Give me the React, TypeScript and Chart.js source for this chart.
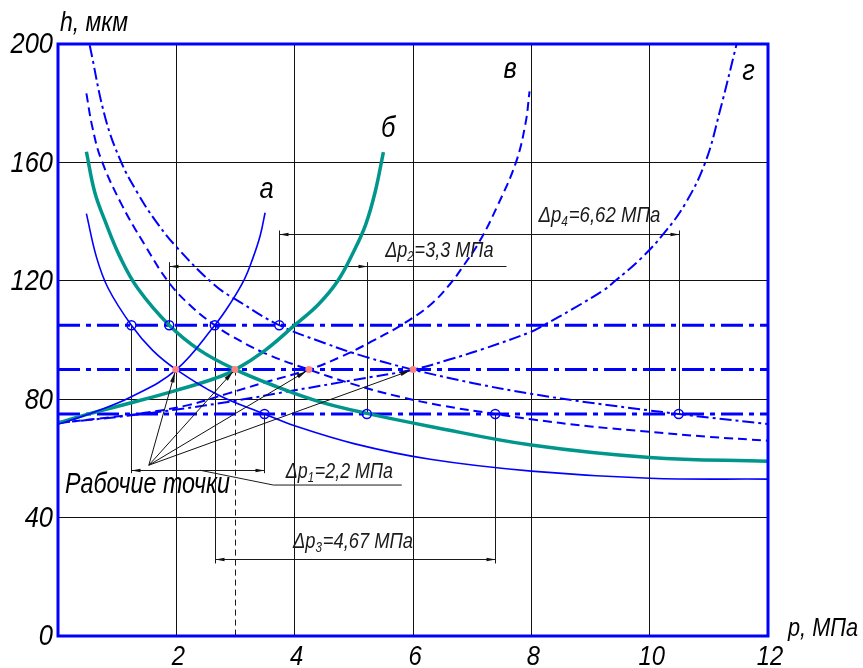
import React, { useEffect, useRef } from 'react';
import { Chart, registerables } from 'chart.js';
Chart.register(...registerables);

const FONT = '"Liberation Sans", "DejaVu Sans", sans-serif';

// Axis ticks
const xTickValues = [0, 2, 4, 6, 8, 10, 12];
const xTickLabels = ['', '2', '4', '6', '8', '10', '12'];
const yTickValues = [0, 40, 80, 120, 160, 200];
const yTickLabels = ['0', '40', '80', '120', '160', '200'];

// Curve а (solid blue)
const aRiseP = [0, 0.55, 1.24, 2, 2.65, 2.9, 3.15, 3.3, 3.42, 3.5];
const aRiseH = [71.5, 75.2, 80.8, 90, 105, 112, 120.5, 128, 135.5, 143];
const aDescP = [0.48, 0.65, 0.85, 1.24, 1.6, 2, 2.7, 3.49, 4, 5, 6.29, 8, 10, 12];
const aDescH = [142.7, 128, 117.4, 105, 96.5, 90, 81.5, 75, 71, 65, 59.7, 55.7, 53.3, 53];

// Curve б (teal)
const bRiseP = [0, 0.55, 1.24, 2, 2.65, 3, 3.5, 4.0, 4.4, 4.73, 5.0, 5.2, 5.36, 5.5];
const bRiseH = [72, 75.2, 78.8, 83, 87, 90, 96.5, 105, 112, 120, 130, 139, 150, 163.5];
const bDescP = [0.48, 0.62, 0.79, 1.05, 1.35, 1.88, 2.4, 3, 3.7, 4.43, 5.22, 6.29, 8, 10, 12];
const bDescH = [163.6, 150, 140.5, 128, 117.4, 105, 96.5, 90, 84.2, 79.1, 75.2, 70.8, 64.5, 60.3, 59];

// Curve в (dashed blue)
const vRiseP = [0, 0.7, 1.44, 2.2, 2.85, 3.5, 4.24, 4.8, 5.3, 5.84, 6.3, 6.63, 6.85, 7.13, 7.42, 7.74, 7.9, 7.97];
const vRiseH = [72, 73.5, 75.3, 78, 81.8, 85.7, 90, 94.5, 99.5, 105.5, 112, 119, 125, 133.5, 145, 160, 173, 184];
const vDescP = [0.48, 0.58, 0.73, 1.07, 1.47, 1.89, 2.3, 2.65, 2.9, 3.5, 4.24, 5.0, 5.78, 6.5, 7.39, 8, 9, 10, 11, 12];
const vDescH = [183.3, 172, 161, 146, 132, 119, 110.5, 105, 101.7, 95.5, 90, 85, 80.8, 77.8, 75, 73.2, 70.8, 69, 67.3, 66];

// Curve г (dash-dot blue)
const gRiseP = [0, 1, 2, 3, 4, 5, 6, 6.6, 7.19, 8, 8.21, 8.7, 9.22, 9.42, 9.85, 10.24, 10.6, 10.94, 11.19, 11.47];
const gRiseH = [72, 74, 76.5, 79.5, 83, 86.5, 90, 93.3, 97, 102.8, 105, 110.5, 116.8, 120, 127.5, 136, 146, 160, 177.6, 200];
const gDescP = [0.536, 0.8, 1.07, 1.35, 1.64, 2.0, 2.65, 3.07, 3.74, 4.5, 5.2, 6, 7, 8, 9, 10, 10.49, 11, 12];
const gDescH = [199.6, 175, 160, 149.5, 140.5, 131.5, 118.5, 112.9, 105, 99, 94.3, 90, 85.5, 81.8, 78.8, 76.2, 75, 73.8, 71.6];

// Horizontal levels
const levelH = [105, 90, 75];

// Hollow circles (intersections with levels)
const circleP = [1.24, 1.88, 2.65, 3.74, 3.49, 5.22, 7.39, 10.49];
const circleH = [105, 105, 105, 105, 75, 75, 75, 75];

// Working points
const workP = [1.99, 2.99, 4.24, 6.0];
const workH = [90, 90, 90, 90];

// Dimension data
const dimP1 = [1.24, 1.88, 2.65, 3.74];
const dimP2 = [3.49, 5.22, 7.39, 10.49];
const dimLineH = [56, 125, 25.9, 135.8];
const dimExtH = [55, 126.3, 24.5, 137];
const dimLineEndP = [3.49, 7.58, 7.39, 10.49];
const dimSub = ['1', '2', '3', '4'];
const dimValue = ['=2,2 МПа', '=3,3 МПа', '=4,67 МПа', '=6,62 МПа'];
const dimTextP = [3.85, 5.53, 3.97, 8.12];
const dimTextEndP = [5.66, 7.36, 6.0, 10.18];
const dimTextH = [53.4, 128, 29.7, 139.9];

const leaderP = [2.4, 3.64, 5.81];
const leaderH = [56, 51, 51];
const arrowOriginP = 1.535;
const arrowOriginH = 57.7;

const curveLabels = ['а', 'б', 'в', 'г'];
const curveLabelP = [3.525, 5.58, 7.64, 11.67];
const curveLabelH = [150.9, 171.5, 191.2, 190.5];

const BLUE = '#0000ff';
const TEAL = '#00968c';

const zip = (ps: number[], hs: number[]) => ps.map((p, i) => ({ x: p, y: hs[i] }));

function tri(ctx: CanvasRenderingContext2D, tx: number, ty: number, fx: number, fy: number, len: number, half: number) {
  const ang = Math.atan2(ty - fy, tx - fx);
  const bx = tx - len * Math.cos(ang);
  const by = ty - len * Math.sin(ang);
  const nx = -Math.sin(ang) * half;
  const ny = Math.cos(ang) * half;
  ctx.beginPath();
  ctx.moveTo(tx, ty);
  ctx.lineTo(bx + nx, by + ny);
  ctx.lineTo(bx - nx, by - ny);
  ctx.closePath();
  ctx.fill();
}

function sText(ctx: CanvasRenderingContext2D, text: string, x: number, y: number, size: number, sx: number, align: string, baseline: CanvasTextBaseline) {
  ctx.save();
  ctx.font = `italic ${size}px ${FONT}`;
  ctx.textBaseline = baseline;
  ctx.textAlign = 'left';
  const w = ctx.measureText(text).width * sx;
  let x0 = x;
  if (align === 'right') x0 = x - w;
  else if (align === 'center') x0 = x - w / 2;
  ctx.translate(x0, y);
  ctx.scale(sx, 1);
  ctx.fillText(text, 0, 0);
  ctx.restore();
}

function fitText(ctx: CanvasRenderingContext2D, text: string, x: number, y: number, size: number, target: number) {
  ctx.save();
  ctx.font = `italic ${size}px ${FONT}`;
  const w = ctx.measureText(text).width;
  ctx.restore();
  sText(ctx, text, x, y, size, target / w, 'left', 'alphabetic');
}

const annotPlugin = {
  id: 'annot',
  beforeDatasetsDraw(chart: any) {
    const ctx: CanvasRenderingContext2D = chart.ctx;
    const xs = chart.scales.x, ys = chart.scales.y;
    const X = (p: number) => xs.getPixelForValue(p);
    const Y = (h: number) => ys.getPixelForValue(h);
    ctx.save();
    ctx.strokeStyle = '#1a1a1a';
    ctx.fillStyle = '#111';
    ctx.lineWidth = 1;
    for (let i = 0; i < dimP1.length; i++) {
      const x1 = Math.round(X(dimP1[i])) + 0.5;
      const x2 = Math.round(X(dimP2[i])) + 0.5;
      const yl = Math.round(Y(dimLineH[i])) + 0.5;
      const ye = Y(dimExtH[i]);
      ctx.beginPath();
      ctx.moveTo(x1, Y(105)); ctx.lineTo(x1, ye);
      ctx.moveTo(x2, Y(75)); ctx.lineTo(x2, ye);
      ctx.moveTo(x1, yl); ctx.lineTo(Math.max(x2, X(dimLineEndP[i])), yl);
      ctx.stroke();
      tri(ctx, x1, yl, x1 + 10, yl, 9, 1.8);
      tri(ctx, x2, yl, x2 - 10, yl, 9, 1.8);
    }
    ctx.beginPath();
    ctx.moveTo(X(leaderP[0]), Y(leaderH[0]));
    for (let i = 1; i < leaderP.length; i++) ctx.lineTo(X(leaderP[i]), Y(leaderH[i]));
    ctx.stroke();
    ctx.setLineDash([6, 4]);
    ctx.beginPath();
    const xd = Math.round(X(workP[1])) + 0.5;
    ctx.moveTo(xd, Y(90)); ctx.lineTo(xd, Y(0));
    ctx.stroke();
    ctx.setLineDash([]);
    ctx.restore();
  },
  afterDatasetsDraw(chart: any) {
    const ctx: CanvasRenderingContext2D = chart.ctx;
    const xs = chart.scales.x, ys = chart.scales.y;
    const X = (p: number) => xs.getPixelForValue(p);
    const Y = (h: number) => ys.getPixelForValue(h);
    const ca = chart.chartArea;
    ctx.save();
    ctx.strokeStyle = BLUE;
    ctx.lineWidth = 3;
    ctx.strokeRect(ca.left, ca.top, ca.right - ca.left, ca.bottom - ca.top);
    ctx.strokeStyle = '#111';
    ctx.fillStyle = '#111';
    ctx.lineWidth = 1;
    const ox = X(arrowOriginP), oy = Y(arrowOriginH);
    for (let i = 0; i < workP.length; i++) {
      const tx = X(workP[i]), ty = Y(workH[i]);
      const ang = Math.atan2(ty - oy, tx - ox);
      const ex = tx - 3 * Math.cos(ang), ey = ty - 3 * Math.sin(ang);
      ctx.beginPath();
      ctx.moveTo(ox, oy); ctx.lineTo(ex, ey);
      ctx.stroke();
      tri(ctx, ex, ey, ox, oy, 10, 2.2);
    }
    ctx.fillStyle = '#1a1a1a';
    for (let i = 0; i < dimSub.length; i++) {
      const x0 = X(dimTextP[i]);
      const y = Y(dimTextH[i]);
      const target = X(dimTextEndP[i]) - x0;
      ctx.font = `italic 22px ${FONT}`;
      const w1 = ctx.measureText('Δp').width;
      const w3 = ctx.measureText(dimValue[i]).width;
      ctx.font = `italic 14px ${FONT}`;
      const w2 = ctx.measureText(dimSub[i]).width + 1;
      const sx = target / (w1 + w2 + w3);
      sText(ctx, 'Δp', x0, y, 22, sx, 'left', 'alphabetic');
      sText(ctx, dimSub[i], x0 + w1 * sx, y + 4, 14, sx, 'left', 'alphabetic');
      sText(ctx, dimValue[i], x0 + (w1 + w2) * sx, y, 22, sx, 'left', 'alphabetic');
    }
    ctx.fillStyle = '#000';
    fitText(ctx, 'Рабочие точки', 65, 493, 30, 165);
    for (let i = 0; i < curveLabels.length; i++) {
      sText(ctx, curveLabels[i], X(curveLabelP[i]), Y(curveLabelH[i]), 30, 0.85, 'center', 'middle');
    }
    fitText(ctx, 'h, мкм', 60, 31, 27, 68);
    fitText(ctx, 'p, МПа', 788, 636, 25, 70);
    for (let i = 0; i < yTickValues.length; i++) {
      if (!yTickLabels[i]) continue;
      sText(ctx, yTickLabels[i], 53, Y(yTickValues[i]) + 1, 30, 0.85, 'right', 'middle');
    }
    for (let i = 0; i < xTickValues.length; i++) {
      if (!xTickLabels[i]) continue;
      sText(ctx, xTickLabels[i], X(xTickValues[i]) + 2, 657, 28, 0.85, 'center', 'middle');
    }
    ctx.restore();
  },
};

export default function App() {
  const ref = useRef<HTMLCanvasElement>(null);
  useEffect(() => {
    if (!ref.current) return;
    const curve = (data: any, color: string, width: number, dash: number[] = []) => ({
      data,
      borderColor: color,
      borderWidth: width,
      borderDash: dash,
      pointRadius: 0,
      fill: false,
      tension: 0.4,
    });
    const datasets: any[] = [
      {
        data: zip(workP, workH), showLine: false, pointRadius: 3.5, pointBorderWidth: 0,
        pointBackgroundColor: '#ff8383', pointBorderColor: '#ff8383',
      },
      {
        data: zip(circleP, circleH), showLine: false, pointRadius: 4.5, pointBorderWidth: 1.5,
        pointBackgroundColor: 'rgba(0,0,0,0)', pointBorderColor: BLUE,
      },
      curve(zip(aRiseP, aRiseH), BLUE, 1.6),
      curve(zip(aDescP, aDescH), BLUE, 1.6),
      curve(zip(bRiseP, bRiseH), TEAL, 3.5),
      curve(zip(bDescP, bDescH), TEAL, 3.5),
      curve(zip(vRiseP, vRiseH), BLUE, 2, [9, 5]),
      curve(zip(vDescP, vDescH), BLUE, 2, [9, 5]),
      curve(zip(gRiseP, gRiseH), BLUE, 2, [12, 4, 3, 4]),
      curve(zip(gDescP, gDescH), BLUE, 2, [12, 4, 3, 4]),
      ...levelH.map((h) => ({ ...curve([{ x: 0, y: h }, { x: 12, y: h }], BLUE, 3, [22, 6, 5, 6]), tension: 0 })),
    ];
    const chart = new Chart(ref.current, {
      type: 'line',
      data: { datasets },
      options: {
        animation: false,
        responsive: false,
        devicePixelRatio: 1,
        layout: { padding: { top: 44, right: 95, left: 0, bottom: 0 } },
        plugins: { legend: { display: false }, tooltip: { enabled: false } },
        scales: {
          x: {
            type: 'linear', min: 0, max: 12,
            afterFit: (s: any) => { s.height = 32; },
            afterBuildTicks: (s: any) => { s.ticks = xTickValues.map((v) => ({ value: v })); },
            ticks: { display: false },
            grid: { color: '#111', lineWidth: 1, drawTicks: false },
            border: { display: false },
          },
          y: {
            type: 'linear', min: 0, max: 200,
            afterFit: (s: any) => { s.width = 58; },
            afterBuildTicks: (s: any) => { s.ticks = yTickValues.map((v) => ({ value: v })); },
            ticks: { display: false },
            grid: { color: '#111', lineWidth: 1, drawTicks: false },
            border: { display: false },
          },
        },
      } as any,
      plugins: [annotPlugin as any],
    });
    return () => chart.destroy();
  }, []);
  return (
    <div style={{ position: 'fixed', left: 0, top: 0, width: 863, height: 668, background: '#fff' }}>
      <canvas ref={ref} width={863} height={668} style={{ width: 863, height: 668 }} />
    </div>
  );
}
